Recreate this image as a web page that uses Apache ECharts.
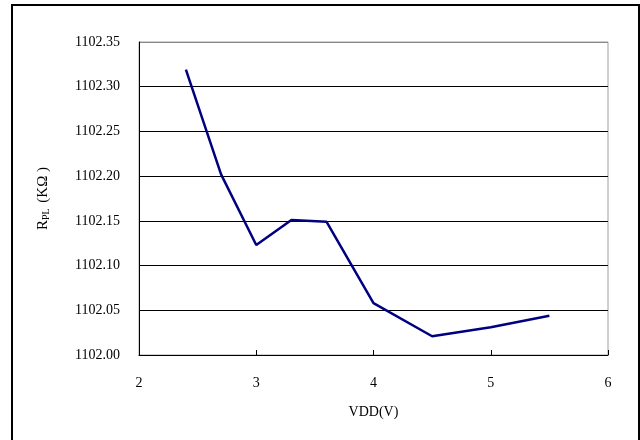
<!DOCTYPE html>
<html>
<head>
<meta charset="utf-8">
<script src="https://cdn.jsdelivr.net/npm/echarts@6/dist/echarts.min.js"></script>
<style>html,body{margin:0;padding:0;background:#fff}#c{width:640px;height:440px}</style>
</head>
<body>
<div id="c"></div>
<script>
var vdd = [2.4, 2.7, 3.0, 3.3, 3.6, 4.0, 4.5, 5.0, 5.5];
var rpl = [1102.319, 1102.202, 1102.123, 1102.151, 1102.149, 1102.058, 1102.021, 1102.031, 1102.044];
var xTitle = 'VDD(V)';
var yTitleMain = 'R';
var yTitleSub = 'PL';
var yTitleRest = ' (KΩ )';

var FONT = '"Liberation Serif", "Times New Roman", serif';
var chart = echarts.init(document.getElementById('c'), null, {renderer: 'canvas'});
chart.setOption({
  animation: false,
  backgroundColor: '#fff',
  grid: {left: 139, top: 42, width: 469, height: 313, show: true, borderColor: '#a0a0a0', borderWidth: 1, backgroundColor: 'transparent'},
  xAxis: {
    type: 'value', min: 2, max: 6, interval: 1,
    name: xTitle, nameLocation: 'middle', nameGap: 50,
    nameTextStyle: {fontFamily: FONT, fontSize: 14, color: '#000'},
    axisLine: {show: true, lineStyle: {color: '#000', width: 1}},
    axisTick: {show: true, inside: true, length: 5, lineStyle: {color: '#000'}},
    axisLabel: {fontFamily: FONT, fontSize: 14, color: '#000', margin: 21},
    splitLine: {show: false}
  },
  yAxis: {
    type: 'value', min: 1102.00, max: 1102.35, interval: 0.05,
    name: '{m|' + yTitleMain + '}{s|' + yTitleSub + '}{m|' + yTitleRest + '}',
    nameLocation: 'middle', nameGap: 88, nameRotate: 90,
    nameTextStyle: {
      rich: {
        m: {fontFamily: FONT, fontSize: 15, color: '#000', lineHeight: 18, verticalAlign: 'bottom'},
        s: {fontFamily: FONT, fontSize: 10, color: '#000', lineHeight: 18, verticalAlign: 'bottom', padding: [0, 2, 0, 0]}
      }
    },
    axisLine: {show: true, lineStyle: {color: '#000', width: 1}},
    axisTick: {show: false},
    axisLabel: {fontFamily: FONT, fontSize: 14, color: '#000', margin: 19,
      formatter: function (v) { return v.toFixed(2); }},
    splitLine: {show: true, lineStyle: {color: ['#000', '#000', '#000', '#000', '#000', '#000', '#000', '#888'], width: 1}}
  },
  series: [{
    type: 'line',
    data: vdd.map(function (x, i) { return [x, rpl[i]]; }),
    showSymbol: false,
    lineStyle: {color: '#000080', width: 2.5},
    itemStyle: {color: '#000080'}
  }],
  graphic: [{
    type: 'rect', shape: {x: 12, y: 5, width: 627, height: 437},
    style: {fill: 'none', stroke: '#000', lineWidth: 2}, silent: true
  }]
});
</script>
</body>
</html>
